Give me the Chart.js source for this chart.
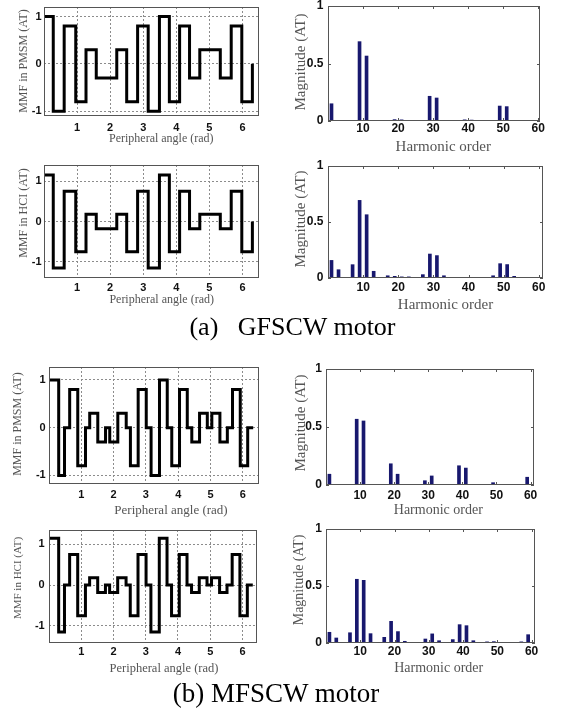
<!DOCTYPE html>
<html>
<head>
<meta charset="utf-8">
<script src="https://cdn.jsdelivr.net/npm/chart.js@4.4.1/dist/chart.umd.min.js"></script>
<style>
html,body{margin:0;padding:0;background:#fff;}
body{width:565px;height:708px;position:relative;overflow:hidden;}
canvas{position:absolute;}
.t{position:absolute;font-family:"Liberation Serif","Times New Roman",serif;color:#555;white-space:nowrap;transform:translate(-50%,-50%);line-height:1;}
.ty{transform:translate(-50%,-50%) rotate(-90deg);}
.cap{position:absolute;font-family:"Liberation Serif","Times New Roman",serif;color:#000;white-space:pre;transform:translateX(-50%);line-height:1;}
</style>
</head>
<body>
<script>
// ---------------- data ----------------
const angleTicks = [1, 2, 3, 4, 5, 6];
const mmfTicks = [-1, 0, 1];
const orderTicks = [10, 20, 30, 40, 50, 60];
const magnitudeTicks = [0, 0.5, 1];

// GFSCW motor: MMF step waveforms (angle where each level starts, rad)
const gfscwAngles = [0, 0.28, 0.61, 0.96, 1.27, 1.58, 2.2, 2.5, 2.83, 3.15, 3.49, 3.79, 4.1, 4.4, 4.71, 5.33, 5.66, 5.98, 6.3];
const gfscwPmsmMmf = [1, -1, 0.8, -0.8, 0.3, -0.3, 0.3, -0.8, 0.8, -1, 1, -0.8, 0.8, -0.3, 0.3, -0.3, 0.8, -0.8, 0];
const gfscwHciMmf = [1.15, -1.15, 0.75, -0.75, 0.18, -0.18, 0.18, -0.75, 0.75, -1.15, 1.15, -0.75, 0.75, -0.18, 0.18, -0.18, 0.75, -0.75, 0];

// MFSCW motor: MMF step waveforms
const mfscwAngles = [0, 0.3, 0.48, 0.64, 0.89, 1.13, 1.26, 1.51, 1.75, 1.88, 2.13, 2.39, 2.52, 2.76, 3.01, 3.16, 3.42, 3.66, 3.8, 4.04, 4.28, 4.42, 4.66, 4.9, 5.04, 5.29, 5.52, 5.68, 5.92, 6.15, 6.32];
const mfscwPmsmMmf = [1, -1, 0, 0.8, -0.8, 0, 0.3, -0.3, 0, -0.3, 0.3, 0, -0.8, 0.8, 0, -1, 1, 0, -0.8, 0.8, 0, -0.3, 0.3, 0, 0.3, -0.3, 0, 0.8, -0.8, 0, 0];
const mfscwHciMmf = [1.15, -1.15, 0, 0.75, -0.75, 0, 0.18, -0.18, 0, -0.18, 0.18, 0, -0.75, 0.75, 0, -1.15, 1.15, 0, -0.75, 0.75, 0, -0.18, 0.18, 0, 0.18, -0.18, 0, 0.75, -0.75, 0, 0];

// Harmonic spectra
const harmonicOrders = [1, 3, 5, 7, 9, 11, 13, 15, 17, 19, 21, 23, 25, 27, 29, 31, 33, 35, 37, 39, 41, 43, 45, 47, 49, 51, 53, 55, 57, 59];
const gfscwPmsmSpectrum = [0.15, 0.005, 0.005, 0.005, 0.69, 0.565, 0.005, 0.005, 0.005, 0.012, 0.01, 0.005, 0.005, 0.005, 0.215, 0.2, 0.005, 0.005, 0.005, 0.01, 0.008, 0.005, 0.005, 0.005, 0.13, 0.125, 0.005, 0.005, 0.005, 0.005];
const gfscwHciSpectrum = [0.157, 0.074, 0.005, 0.119, 0.693, 0.565, 0.06, 0.005, 0.02, 0.015, 0.01, 0.01, 0.005, 0.03, 0.214, 0.2, 0.02, 0.005, 0.005, 0.005, 0.005, 0.005, 0.005, 0.02, 0.128, 0.12, 0.015, 0.005, 0.005, 0.005];
const mfscwPmsmSpectrum = [0.093, 0, 0, 0, 0.567, 0.552, 0, 0, 0, 0.183, 0.093, 0, 0, 0, 0.037, 0.078, 0, 0, 0, 0.166, 0.146, 0, 0, 0, 0.02, 0, 0, 0, 0, 0.067];
const mfscwHciSpectrum = [0.094, 0.044, 0.005, 0.09, 0.559, 0.55, 0.082, 0.005, 0.05, 0.19, 0.1, 0.015, 0.005, 0.005, 0.035, 0.08, 0.02, 0.005, 0.03, 0.161, 0.152, 0.02, 0.005, 0.01, 0.012, 0.005, 0.005, 0.005, 0.01, 0.073];

// ---------------- layout / styling ----------------
const LM = 34, BM = 24, PT = 10, PR = 12;

const framePlugin = {
  id: 'frame',
  afterDatasetsDraw(chart, args, opts) {
    const {ctx, chartArea: {left, top, right, bottom}} = chart;
    ctx.save();
    ctx.strokeStyle = opts.color;
    ctx.lineWidth = 1;
    ctx.strokeRect(left + 0.5, top + 0.5, right - left - 1, bottom - top - 1);
    if (opts.tickLen) {
      const xs = chart.scales.x, ys = chart.scales.y;
      ctx.beginPath();
      xs.ticks.forEach(t => {
        const p = Math.round(xs.getPixelForValue(t.value)) + 0.5;
        ctx.moveTo(p, bottom); ctx.lineTo(p, bottom - opts.tickLen);
        ctx.moveTo(p, top); ctx.lineTo(p, top + opts.tickLen);
      });
      ys.ticks.forEach(t => {
        const p = Math.round(ys.getPixelForValue(t.value)) + 0.5;
        ctx.moveTo(left, p); ctx.lineTo(left + opts.tickLen, p);
        ctx.moveTo(right, p); ctx.lineTo(right - opts.tickLen, p);
      });
      ctx.stroke();
    }
    ctx.restore();
  }
};

const panels = [
  {box: {l: 44, t: 7, r: 259, b: 116}, kind: 'line', xs: gfscwAngles, ys: gfscwPmsmMmf, xMin: 0, xMax: 6.5, yMin: -1.1, yMax: 1.2, xTicks: angleTicks, yTicks: mmfTicks, fs: 11, xPad: 5, yPad: 2.5},
  {box: {l: 328, t: 6, r: 540, b: 121}, kind: 'bar', xs: harmonicOrders, ys: gfscwPmsmSpectrum, xMin: 0, xMax: 60.5, yMin: 0, yMax: 1, xTicks: orderTicks, yTicks: magnitudeTicks, fs: 12, xPad: 0, yPad: 4.5},
  {box: {l: 44, t: 165, r: 259, b: 278}, kind: 'line', xs: gfscwAngles, ys: gfscwHciMmf, xMin: 0, xMax: 6.5, yMin: -1.4, yMax: 1.4, xTicks: angleTicks, yTicks: mmfTicks, fs: 11, xPad: 3, yPad: 2.5},
  {box: {l: 328, t: 166, r: 543, b: 278}, kind: 'bar', xs: harmonicOrders, ys: gfscwHciSpectrum, xMin: 0, xMax: 61.2, yMin: 0, yMax: 1, xTicks: orderTicks, yTicks: magnitudeTicks, fs: 12, xPad: 2.5, yPad: 4.5},
  {box: {l: 49, t: 367, r: 259, b: 484}, kind: 'line', xs: mfscwAngles, ys: mfscwPmsmMmf, xMin: 0, xMax: 6.5, yMin: -1.18, yMax: 1.27, xTicks: angleTicks, yTicks: mmfTicks, fs: 11, xPad: 4.4, yPad: 3.3},
  {box: {l: 326, t: 369, r: 534, b: 485}, kind: 'bar', xs: harmonicOrders, ys: mfscwPmsmSpectrum, xMin: 0, xMax: 61, yMin: 0, yMax: 1, xTicks: orderTicks, yTicks: magnitudeTicks, fs: 12, xPad: 3, yPad: 4},
  {box: {l: 49, t: 530, r: 257, b: 643}, kind: 'line', xs: mfscwAngles, ys: mfscwHciMmf, xMin: 0, xMax: 6.45, yMin: -1.42, yMax: 1.35, xTicks: angleTicks, yTicks: mmfTicks, fs: 11, xPad: 2, yPad: 4.3},
  {box: {l: 326, t: 529, r: 535, b: 643}, kind: 'bar', xs: harmonicOrders, ys: mfscwHciSpectrum, xMin: 0, xMax: 61, yMin: 0, yMax: 1, xTicks: orderTicks, yTicks: magnitudeTicks, fs: 12, xPad: 1.5, yPad: 4},
];

function zeroPad(s) { s.paddingLeft = 0; s.paddingRight = 0; s.paddingTop = 0; s.paddingBottom = 0; }

panels.forEach(p => {
  const W = p.box.r - p.box.l + LM + PR;
  const H = p.box.b - p.box.t + PT + BM;
  const canvas = document.createElement('canvas');
  canvas.width = W; canvas.height = H;
  canvas.style.left = (p.box.l - LM) + 'px';
  canvas.style.top = (p.box.t - PT) + 'px';
  canvas.style.width = W + 'px';
  canvas.style.height = H + 'px';
  document.body.appendChild(canvas);

  const isLine = p.kind === 'line';
  const tickFont = {family: '"Liberation Sans", Arial, sans-serif', size: p.fs, weight: 'bold', lineHeight: 1.2};
  const points = p.xs.map((x, i) => ({x: x, y: p.ys[i]}));

  const dataset = isLine ? {
    data: points, borderColor: '#000', borderWidth: 3, pointRadius: 0, stepped: true,
    fill: false, borderJoinStyle: 'miter', borderCapStyle: 'butt'
  } : {
    data: points, backgroundColor: '#18186e', borderWidth: 0, barThickness: 3
  };

  const gridOpts = isLine
    ? {display: true, drawOnChartArea: true, drawTicks: false, color: '#8c8c8c', lineWidth: 1}
    : {display: false, drawTicks: false};

  new Chart(canvas, {
    type: p.kind,
    data: {datasets: [dataset]},
    plugins: [framePlugin],
    options: {
      responsive: false,
      animation: false,
      devicePixelRatio: 1,
      events: [],
      layout: {padding: {top: PT, right: PR, left: 0, bottom: 0}},
      plugins: {
        legend: {display: false},
        tooltip: {enabled: false},
        frame: {color: '#555', tickLen: isLine ? 0 : 3}
      },
      scales: {
        x: {
          type: 'linear', min: p.xMin, max: p.xMax, offset: false,
          afterBuildTicks: s => { s.ticks = p.xTicks.map(v => ({value: v})); },
          afterFit: s => { s.height = BM; zeroPad(s); },
          grid: Object.assign({offset: false}, gridOpts),
          border: {display: false, dash: isLine ? [2, 2] : []},
          ticks: {padding: p.xPad, font: tickFont, color: '#111', maxRotation: 0, minRotation: 0, autoSkip: false, callback: v => String(v)}
        },
        y: {
          type: 'linear', min: p.yMin, max: p.yMax,
          afterBuildTicks: s => { s.ticks = p.yTicks.map(v => ({value: v})); },
          afterFit: s => { s.width = LM; zeroPad(s); },
          grid: gridOpts,
          border: {display: false, dash: isLine ? [2, 2] : []},
          ticks: {padding: p.yPad, font: tickFont, color: '#111', autoSkip: false, callback: v => String(v)}
        }
      }
    }
  });
});

// ---------------- text ----------------
const yTitles = [
  ['MMF in PMSM (AT)', 23, 61, 12],
  ['Magnitude (AT)', 300, 62, 15],
  ['MMF in HCI (AT)', 23, 213, 12],
  ['Magnitude (AT)', 300, 219, 15],
  ['MMF in PMSM (AT)', 17, 424, 12],
  ['Magnitude (AT)', 299.5, 422.5, 15],
  ['MMF in HCI (AT)', 16.5, 577.5, 11],
  ['Magnitude (AT)', 298.5, 580, 14],
];
const xTitles = [
  ['Peripheral angle (rad)', 161.3, 137.7, 12],
  ['Harmonic order', 443.3, 146, 15],
  ['Peripheral angle (rad)', 161.7, 299.3, 12],
  ['Harmonic order', 445.5, 304.3, 15],
  ['Peripheral angle (rad)', 171, 509.3, 13],
  ['Harmonic order', 438.3, 510.3, 14],
  ['Peripheral angle (rad)', 164, 668, 12.5],
  ['Harmonic order', 438.7, 667.7, 14],
];
function addText(txt, cx, cy, fs, cls) {
  const d = document.createElement('div');
  d.className = cls;
  d.textContent = txt;
  d.style.left = cx + 'px';
  d.style.top = cy + 'px';
  d.style.fontSize = fs + 'px';
  document.body.appendChild(d);
}
yTitles.forEach(t => addText(t[0], t[1], t[2], t[3], 't ty'));
xTitles.forEach(t => addText(t[0], t[1], t[2], t[3], 't'));

const captions = [
  ['(a)   GFSCW motor', 292.5, 314.2, 26],
  ['(b) MFSCW motor', 276, 680, 27],
];
captions.forEach(c => addText(c[0], c[1], c[2], c[3], 'cap'));
</script>
</body>
</html>
